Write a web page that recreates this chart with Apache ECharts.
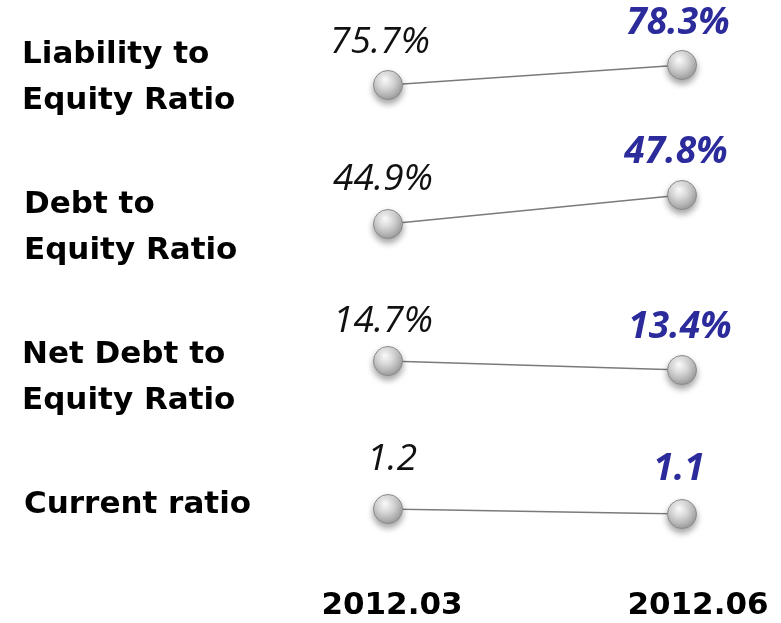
<!DOCTYPE html>
<html>
<head>
<meta charset="utf-8">
<script src="https://cdn.jsdelivr.net/npm/echarts@6/dist/echarts.min.js"></script>
<style>html,body{margin:0;padding:0;background:#fff}#c{width:781px;height:623px}</style>
</head>
<body>
<div id="c"></div>
<script>
var categories = ['2012.03', '2012.06'];
var metrics = ['Liability to\nEquity Ratio', 'Debt to\nEquity Ratio', 'Net Debt to\nEquity Ratio', 'Current ratio'];
var liability = [75.7, 78.3];
var debt = [44.9, 47.8];
var netDebt = [14.7, 13.4];
var current = [1.2, 1.1];
var suffixes = ['%', '%', '%', ''];

var rows = [liability, debt, netDebt, current];
// layout per row (pixel placement of each mini panel)
var gridTops = [65, 195, 361, 509];
var gridHeights = [20, 29, 9, 5];
var nameCenters = [55, 205, 355, 505];
var nameLefts = [22, 24, 22, 24];
var leftLabelOffsets = [[-8, -5], [-5, -7], [-5, -2], [4, -12]];
var rightLabelOffsets = [[-4, -4], [-6, -5], [-2, -5], [-3, -7]];
var VAL_FONT = 'Open Sans';
var NAME_FONT = 'DejaVu Sans';

var sphere = {
  type: 'radial', x: 0.4, y: 0.3, r: 0.8,
  colorStops: [
    {offset: 0, color: '#ffffff'},
    {offset: 0.4, color: '#d6d6d6'},
    {offset: 0.85, color: '#a0a0a0'},
    {offset: 1, color: '#8a8a8a'}
  ]
};

var grids = [], xAxes = [], yAxes = [], series = [], graphics = [];
rows.forEach(function (vals, i) {
  grids.push({left: 388, right: 99, top: gridTops[i], height: gridHeights[i]});
  xAxes.push({
    type: 'category', gridIndex: i, data: categories, boundaryGap: false,
    axisLine: {show: false}, axisTick: {show: false}, splitLine: {show: false},
    axisLabel: i === 3 ? {
      show: true, margin: 76, interval: 0,
      formatter: function (v, idx) { return '{c' + idx + '|' + v + '}'; },
      rich: {
        c0: {fontSize: 31, fontWeight: 'bold', fontFamily: NAME_FONT, color: '#000', padding: [0, 0, 0, 8]},
        c1: {fontSize: 31, fontWeight: 'bold', fontFamily: NAME_FONT, color: '#000', padding: [0, 0, 0, 32]}
      }
    } : {show: false}
  });
  yAxes.push({
    type: 'value', gridIndex: i, min: 'dataMin', max: 'dataMax', show: false,
    splitLine: {show: false}
  });
  var suf = suffixes[i];
  series.push({
    type: 'line', xAxisIndex: i, yAxisIndex: i,
    data: vals.map(function (v, j) {
      return {
        value: v,
        label: j === 0 ? {
          color: '#111', fontStyle: 'italic', fontWeight: 'normal', offset: leftLabelOffsets[i]
        } : {
          color: '#2b2b9c', fontStyle: 'italic', fontWeight: 'bold', offset: rightLabelOffsets[i]
        }
      };
    }),
    symbol: 'circle', symbolSize: 29,
    lineStyle: {color: '#7a7a7a', width: 1.6},
    itemStyle: {
      color: sphere, borderColor: '#8c8c8c', borderWidth: 1,
      shadowBlur: 6, shadowColor: 'rgba(0,0,0,0.35)', shadowOffsetY: 4
    },
    label: {
      show: true, position: 'top', distance: 4, fontSize: 37, fontFamily: VAL_FONT,
      formatter: function (p) { return p.value.toFixed(1) + suf; }
    },
    emphasis: {disabled: true},
    animation: false
  });
  graphics.push({
    type: 'text', left: nameLefts[i], top: nameCenters[i] - 23,
    style: {
      text: metrics[i], font: 'bold 31px "' + NAME_FONT + '"', fill: '#000', lineHeight: 46
    }
  });
});

var chart = echarts.init(document.getElementById('c'));
chart.setOption({
  backgroundColor: '#fff',
  animation: false,
  grid: grids, xAxis: xAxes, yAxis: yAxes, series: series, graphic: graphics
});
</script>
</body>
</html>
